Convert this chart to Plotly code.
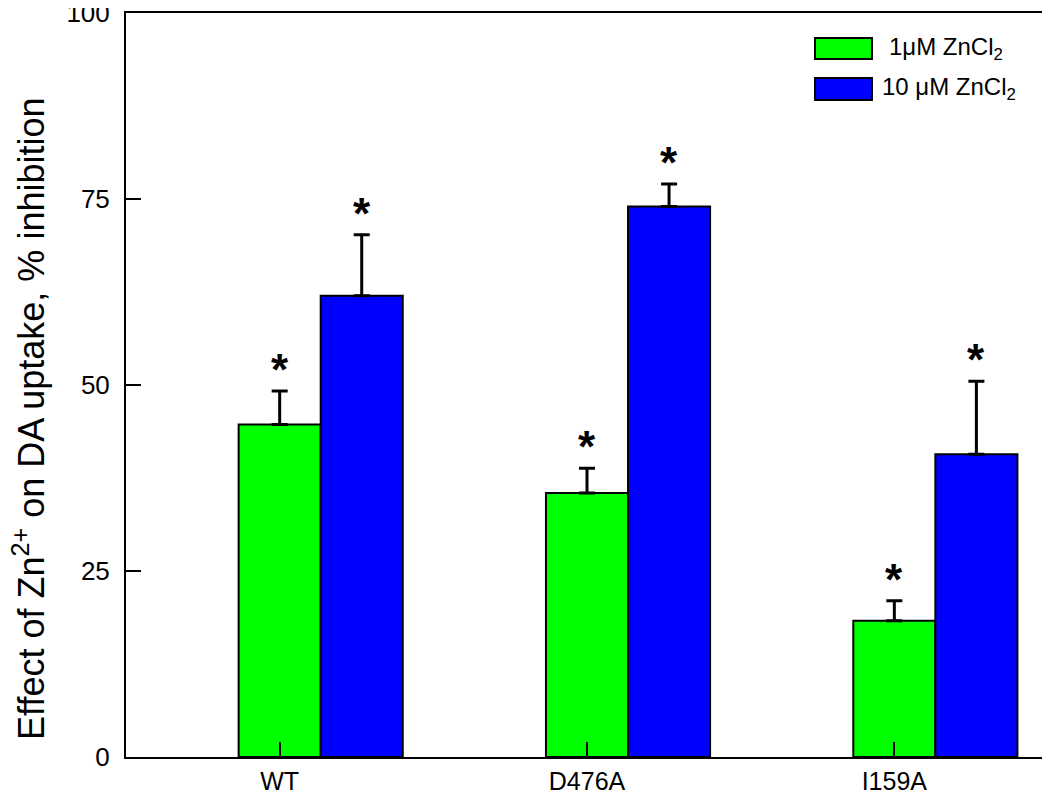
import plotly.graph_objects as go

categories = ["WT", "D476A", "I159A"]
series_names = ["1\u03bcM ZnCl<sub>2</sub>", "10 \u03bcM ZnCl<sub>2</sub>"]
zn1_values = [44.7, 35.5, 18.3]
zn1_errors = [4.5, 3.3, 2.7]
zn10_values = [62.0, 74.0, 40.7]
zn10_errors = [8.2, 3.0, 9.8]
significant = ["*", "*", "*"]
y_ticks = [0, 25, 50, 75, 100]
y_title = "Effect of Zn<sup>2+</sup> on DA uptake, % inhibition"

FONT = "Liberation Sans, Arial, sans-serif"
GREEN = "#00ff00"
BLUE = "#0000ff"
W = 0.267

xpos = list(range(1, len(categories) + 1))

fig = go.Figure()
fig.add_trace(go.Bar(
    x=xpos, y=zn1_values, width=W, offset=-W / 2, name=series_names[0],
    marker=dict(color=GREEN, line=dict(color="black", width=2)),
    error_y=dict(type="data", symmetric=False, array=zn1_errors,
                 arrayminus=[0] * len(zn1_errors), color="black", thickness=3, width=8),
))
fig.add_trace(go.Bar(
    x=xpos, y=zn10_values, width=W, offset=W / 2, name=series_names[1],
    marker=dict(color=BLUE, line=dict(color="black", width=2)),
    error_y=dict(type="data", symmetric=False, array=zn10_errors,
                 arrayminus=[0] * len(zn10_errors), color="black", thickness=3, width=8),
))

annotations = []
for i, x in enumerate(xpos):
    for xc, v, e in ((x, zn1_values[i], zn1_errors[i]), (x + W, zn10_values[i], zn10_errors[i])):
        annotations.append(dict(
            x=xc, y=v + e, xref="x", yref="y", text="<b>" + significant[i] + "</b>",
            showarrow=False, yanchor="bottom", yshift=-5,
            font=dict(family=FONT, size=44, color="black"),
        ))

# legend drawn manually (wide swatches like the original)
legend_rows = [(GREEN, series_names[0], 0.9382, 0.9664, 0.8254),
               (BLUE, series_names[1], 0.8831, 0.9126, 0.8178)]
shapes = []
for color, label, y0, y1, tx in legend_rows:
    shapes.append(dict(type="rect", xref="paper", yref="paper", x0=0.7473, x1=0.8091,
                       y0=y0, y1=y1, fillcolor=color, line=dict(color="black", width=2)))
    annotations.append(dict(x=tx, y=(y0 + y1) / 2, xref="paper", yref="paper", text=label,
                            showarrow=False, xanchor="left", yanchor="middle",
                            font=dict(family=FONT, size=24, color="black")))

# y-axis title as rotated text
annotations.append(dict(x=-0.1047, y=0.455, xref="paper", yref="paper", text=y_title,
                        textangle=-90, showarrow=False, xanchor="center", yanchor="middle",
                        font=dict(family=FONT, size=36, color="black")))

# the page body adds an 8px margin; size the figure so the plot lands where the original's does
fig.update_layout(
    width=1042, height=788,
    margin=dict(l=118, r=2, t=5, b=39),
    paper_bgcolor="white", plot_bgcolor="white",
    barmode="overlay", showlegend=False,
    font=dict(family=FONT, color="black"),
    shapes=shapes, annotations=annotations,
    xaxis=dict(
        range=[0.5, 3.5], tickmode="array", tickvals=xpos, ticktext=categories,
        ticks="inside", ticklen=15, tickwidth=2, tickcolor="black",
        showline=True, linecolor="black", linewidth=2, mirror=True,
        showgrid=False, zeroline=False, tickfont=dict(size=25, family=FONT),
        automargin=False, ticklabelstandoff=1, ticklabeloverflow="allow",
    ),
    yaxis=dict(
        range=[0, 100], tickmode="array", tickvals=y_ticks,
        ticks="inside", ticklen=15, tickwidth=2, tickcolor="black",
        showline=True, linecolor="black", linewidth=2, mirror=True,
        showgrid=False, zeroline=False, tickfont=dict(size=26, family=FONT),
        automargin=False, ticklabelstandoff=9, ticklabeloverflow="allow",
    ),
)

fig.write_html("out.html")
